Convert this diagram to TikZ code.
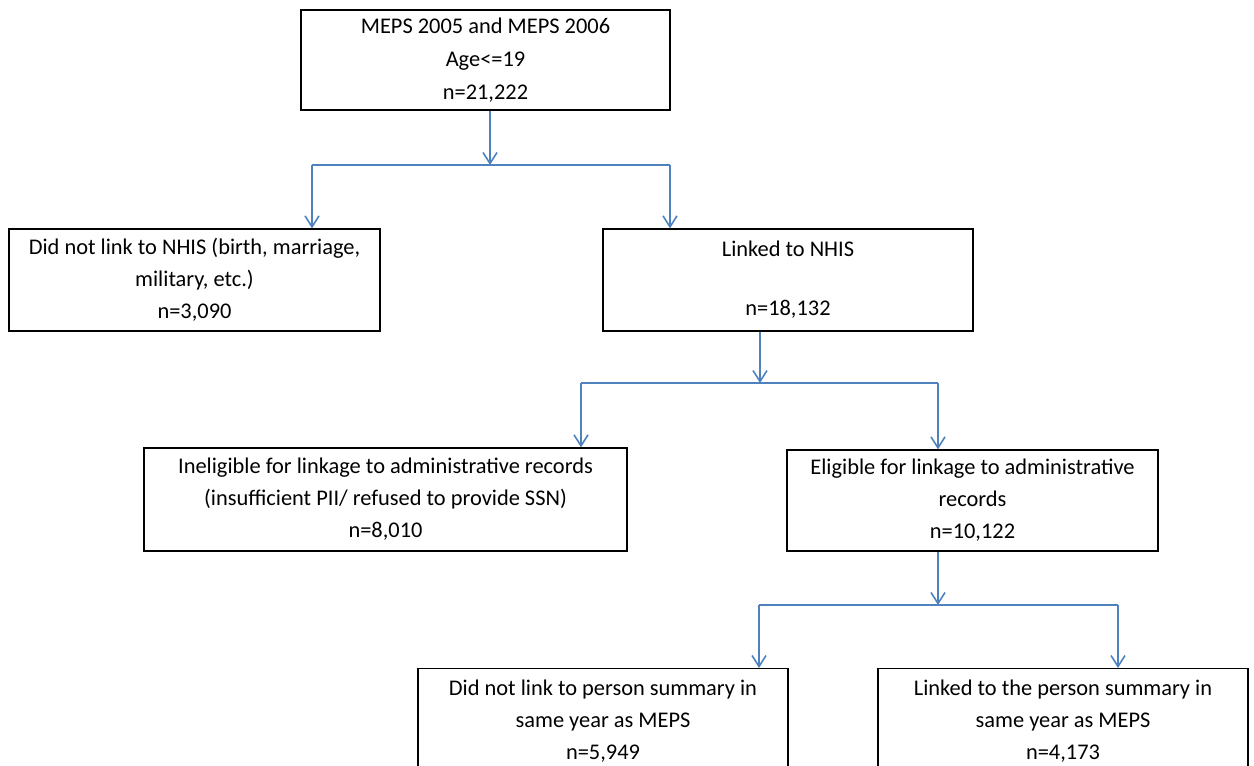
\documentclass[tikz,border=0pt]{standalone}
\usepackage{fontspec}
\setmainfont{Carlito}
\usepackage{tikz}
\usetikzlibrary{arrows.meta, positioning}

\definecolor{linkblue}{RGB}{79,129,189}

\tikzset{
  flowbox/.style={draw=black, line width=1.3pt, align=center, inner sep=0pt,
    font=\fontsize{22.4}{32}\selectfont},
  flowline/.style={draw=linkblue, line width=1.6pt},
  flowarrow/.style={flowline, -{Straight Barb[length=11pt,width=14pt,line width=1.6pt]}},
}

\begin{document}
\begin{tikzpicture}[x=1pt,y=1pt,yscale=-1]

\clip (0,0) rectangle (1254,766);

% Boxes
\node [flowbox, minimum width=369pt, minimum height=100pt] (meps) at (485.5,60)
  {MEPS 2005 and MEPS 2006\\[1pt]Age<=19\\[1pt]n=21,222};
\node [flowbox, minimum width=371pt, minimum height=102pt] (nolink) at (194.5,280)
  {Did not link to NHIS (birth, marriage,\\military, etc.)\\n=3,090};
\node [flowbox, minimum width=370pt, minimum height=102pt] (linked) at (788,280)
  {Linked to NHIS\\[27pt]n=18,132};
\node [flowbox, minimum width=483pt, minimum height=103pt] (inelig) at (385.5,499.5)
  {Ineligible for linkage to administrative records\\(insufficient PII/ refused to provide SSN)\\n=8,010};
\node [flowbox, minimum width=371pt, minimum height=101pt] (elig) at (972.5,500.5)
  {Eligible for linkage to administrative\\records\\n=10,122};
\node [flowbox, minimum width=370pt, minimum height=104pt, anchor=north] (nosum) at (603,668)
  {Did not link to person summary in\\same year as MEPS\\n=5,949};
\node [flowbox, minimum width=370pt, minimum height=104pt, anchor=north] (sum) at (1063,668)
  {Linked to the person summary in\\same year as MEPS\\n=4,173};

% Junctions
\coordinate (j1) at (490,165);
\coordinate (j1l) at (312,165);
\coordinate (j1r) at (670,165);
\coordinate (j2) at (760,383);
\coordinate (j2l) at (581,383);
\coordinate (j2r) at (938,383);
\coordinate (j3) at (938,605);
\coordinate (j3l) at (759,605);
\coordinate (j3r) at (1118,605);

% First split
\draw [flowarrow] (meps.south -| j1) -- (j1);
\draw [flowline] (j1l) -- (j1r);
\draw [flowarrow] (j1l) -- (nolink.north -| j1l);
\draw [flowarrow] (j1r) -- (linked.north -| j1r);

% Second split
\draw [flowarrow] (linked.south -| j2) -- (j2);
\draw [flowline] (j2l) -- (j2r);
\draw [flowarrow] (j2l) -- (inelig.north -| j2l);
\draw [flowarrow] (j2r) -- (elig.north -| j2r);

% Third split
\draw [flowarrow] (elig.south -| j3) -- (j3);
\draw [flowline] (j3l) -- (j3r);
\draw [flowarrow] (j3l) -- (nosum.north -| j3l);
\draw [flowarrow] (j3r) -- (sum.north -| j3r);

\end{tikzpicture}
\end{document}
